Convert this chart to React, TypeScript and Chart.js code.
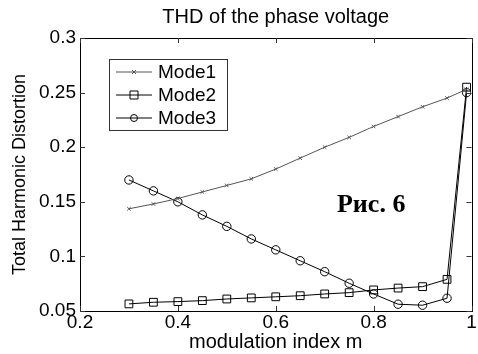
import React, { useEffect, useRef } from "react";
import { Chart, registerables } from "chart.js";

Chart.register(...registerables);

const modIndex = [0.3, 0.35, 0.4, 0.45, 0.5, 0.55, 0.6, 0.65, 0.7, 0.75, 0.8, 0.85, 0.9, 0.95, 0.99];
const mode1 = [0.1436, 0.148, 0.153, 0.159, 0.165, 0.171, 0.18, 0.19, 0.2, 0.209, 0.219, 0.228, 0.237, 0.245, 0.253];
const mode2 = [0.0565, 0.058, 0.0586, 0.0595, 0.061, 0.062, 0.063, 0.064, 0.0656, 0.0668, 0.0693, 0.071, 0.0723, 0.079, 0.255];
const mode3 = [0.17, 0.16, 0.15, 0.138, 0.1275, 0.116, 0.106, 0.096, 0.086, 0.0754, 0.0656, 0.0562, 0.0553, 0.0617, 0.25];
const seriesNames = ["Mode1", "Mode2", "Mode3"];
const xTicks = [0.2, 0.4, 0.6, 0.8, 1];
const yTicks = [0.05, 0.1, 0.15, 0.2, 0.25, 0.3];
const titleText = "THD of the phase voltage";
const xTitle = "modulation index m";
const yTitle = "Total Harmonic Distortion";
const figLabel = "Рис. 6";

const FONT = "'Liberation Sans', Arial, sans-serif";

export default function App() {
  const ref = useRef<HTMLCanvasElement | null>(null);

  useEffect(() => {
    document.body.style.margin = "0";
    const canvas = ref.current;
    if (!canvas) return;

    const toPts = (ys: number[]) => ys.map((y, i) => ({ x: modIndex[i], y }));

    const styles = [
      { color: "#555555", pointStyle: "crossRot", radius: 2.5 },
      { color: "#000000", pointStyle: "rect", radius: 5.5 },
      { color: "#000000", pointStyle: "circle", radius: 4.2 },
    ];

    const decor = {
      id: "decor",
      afterDraw(chart: any) {
        const { ctx, chartArea: a, scales } = chart;
        const xs = scales.x;
        const ys = scales.y;
        ctx.save();
        // box
        ctx.strokeStyle = "#000";
        ctx.lineWidth = 1;
        ctx.strokeRect(Math.round(a.left) + 0.5, Math.round(a.top) + 0.5, Math.round(a.right - a.left), Math.round(a.bottom - a.top));
        // inward ticks
        ctx.strokeStyle = "#333";
        const tl = 5;
        xTicks.forEach((v) => {
          const px = Math.round(xs.getPixelForValue(v)) + 0.5;
          ctx.beginPath();
          ctx.moveTo(px, a.bottom);
          ctx.lineTo(px, a.bottom - tl);
          ctx.moveTo(px, a.top);
          ctx.lineTo(px, a.top + tl);
          ctx.stroke();
        });
        yTicks.forEach((v) => {
          const py = Math.round(ys.getPixelForValue(v)) + 0.5;
          ctx.beginPath();
          ctx.moveTo(a.left, py);
          ctx.lineTo(a.left + tl, py);
          ctx.moveTo(a.right, py);
          ctx.lineTo(a.right - tl, py);
          ctx.stroke();
        });
        // title
        ctx.fillStyle = "#000";
        ctx.font = `20px ${FONT}`;
        ctx.textAlign = "center";
        ctx.textBaseline = "middle";
        ctx.fillText(titleText, (a.left + a.right) / 2, 17);

        // legend
        const lx = a.left + 29;
        const ly = a.top + 21;
        const lw = 118;
        const lh = 71;
        ctx.fillStyle = "#fff";
        ctx.fillRect(lx, ly, lw, lh);
        ctx.strokeStyle = "#333";
        ctx.lineWidth = 1;
        ctx.strokeRect(lx + 0.5, ly + 0.5, lw, lh);
        seriesNames.forEach((name, i) => {
          const cy = ly + 13 + i * 23;
          const st = styles[i];
          ctx.strokeStyle = st.color;
          ctx.lineWidth = 1;
          ctx.beginPath();
          ctx.moveTo(lx + 7, cy);
          ctx.lineTo(lx + 43, cy);
          ctx.stroke();
          const mx = lx + 25;
          ctx.beginPath();
          if (i === 0) {
            const r = 2;
            ctx.moveTo(mx - r, cy - r);
            ctx.lineTo(mx + r, cy + r);
            ctx.moveTo(mx + r, cy - r);
            ctx.lineTo(mx - r, cy + r);
          } else if (i === 1) {
            ctx.rect(mx - 4, cy - 4, 8, 8);
          } else {
            ctx.arc(mx, cy, 3.5, 0, Math.PI * 2);
          }
          ctx.stroke();
          ctx.fillStyle = "#000";
          ctx.font = `19px ${FONT}`;
          ctx.textAlign = "left";
          ctx.textBaseline = "middle";
          ctx.fillText(name, lx + 49, cy + 1);
        });

        // figure label
        ctx.font = `bold 26px 'Liberation Serif', 'Times New Roman', serif`;
        ctx.textAlign = "center";
        ctx.textBaseline = "middle";
        ctx.fillStyle = "#000";
        ctx.fillText(figLabel, xs.getPixelForValue(0.795), ys.getPixelForValue(0.147));
        ctx.restore();
      },
    };

    const chart = new Chart(canvas, {
      type: "scatter",
      data: {
        datasets: [mode1, mode2, mode3].map((d, i) => ({
          label: seriesNames[i],
          data: toPts(d),
          showLine: true,
          borderColor: styles[i].color,
          borderWidth: 1,
          pointStyle: styles[i].pointStyle as any,
          pointRadius: styles[i].radius,
          pointBorderColor: styles[i].color,
          pointBackgroundColor: "transparent",
          pointBorderWidth: 1,
          tension: 0,
        })),
      },
      options: {
        responsive: false,
        animation: false,
        layout: { padding: { top: 38, right: 4, left: 0, bottom: 0 } },
        plugins: {
          legend: { display: false },
          title: { display: false },
          tooltip: { enabled: false },
        },
        scales: {
          x: {
            type: "linear",
            min: 0.2,
            max: 1,
            afterBuildTicks: (s: any) => {
              s.ticks = xTicks.map((v) => ({ value: v }));
            },
            afterFit: (s: any) => {
              s.height = 43;
            },
            grid: { display: false, drawTicks: false },
            border: { display: false },
            ticks: {
              color: "#000",
              font: { family: FONT, size: 19 },
              padding: 0,
              maxRotation: 0,
              callback: (v: any) => String(Number(Number(v).toFixed(2))),
            },
            title: {
              display: true,
              text: xTitle,
              color: "#000",
              font: { family: FONT, size: 20 },
              padding: { top: -5, bottom: 0 },
            },
          },
          y: {
            type: "linear",
            min: 0.05,
            max: 0.3,
            afterBuildTicks: (s: any) => {
              s.ticks = yTicks.map((v) => ({ value: v }));
            },
            afterFit: (s: any) => {
              s.width = 80;
            },
            grid: { display: false, drawTicks: false },
            border: { display: false },
            ticks: {
              color: "#000",
              font: { family: FONT, size: 19 },
              padding: 4,
              callback: (v: any) => String(Number(Number(v).toFixed(2))),
            },
            title: {
              display: true,
              text: yTitle,
              color: "#000",
              font: { family: FONT, size: 18 },
              padding: { top: 9, bottom: 0 },
            },
          },
        },
      },
      plugins: [decor],
    });

    return () => chart.destroy();
  }, []);

  return (
    <div style={{ width: 478, height: 354, background: "#fff" }}>
      <canvas ref={ref} width={478} height={354} style={{ display: "block" }} />
    </div>
  );
}
